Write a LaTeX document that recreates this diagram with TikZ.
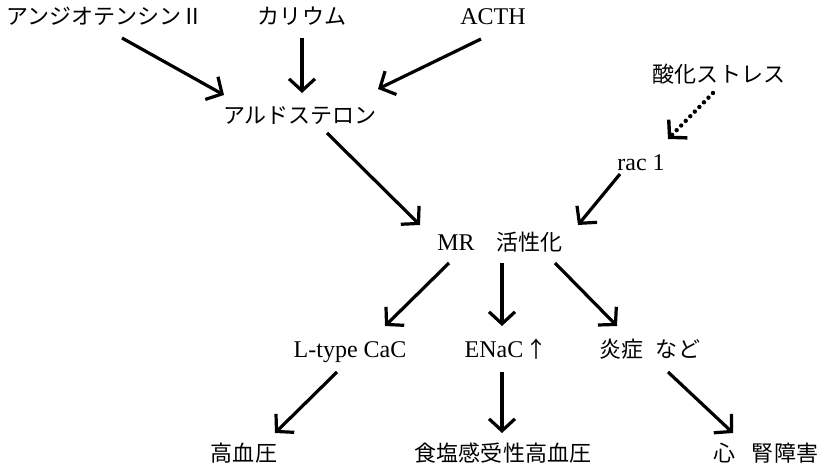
\documentclass[tikz,border=0pt]{standalone}
\usepackage{fontspec}
\setmainfont{Liberation Serif}
\newfontfamily\jp{Noto Sans CJK JP}[Scale=0.917]
\usetikzlibrary{arrows.meta}

\tikzset{
  lbl/.style={anchor=base, inner sep=0pt, font=\fontsize{24pt}{28pt}\selectfont},
  arr/.style={line width=3.2pt, -{Straight Barb[length=12pt,width=26pt]}},
  dotarr/.style={line width=4.4pt, line cap=round, dash pattern=on 0pt off 6.5pt,
                 -{Straight Barb[length=12pt,width=26pt,line width=3.4pt]}}
}

\begin{document}
\begin{tikzpicture}[x=1pt, y=-1pt]
\useasboundingbox (0,0) rectangle (828,471);

% labels
\node[lbl] (ang)   at (105,24)  {\jp アンジオテンシンⅡ};
\node[lbl] (kal)   at (302,24)  {\jp カリウム};
\node[lbl] (acth)  at (493,24)  {ACTH};
\node[lbl] (ald)   at (300,123) {\jp アルドステロン};
\node[lbl] (sanka) at (719,82)  {\jp 酸化ストレス};
\node[lbl] (rac)   at (641,170) {rac 1};
\node[lbl] (mr)    at (500,250) {MR\hspace{22pt}{\jp 活性化}};
\node[lbl] (ltype) at (350,357) {L-type CaC};
\node[lbl] (enac)  at (506,357) {ENaC\hspace{2pt}{\jp ↑}};
\node[lbl] (ens)   at (650,357) {\jp 炎症\hspace{12pt}など};
\node[lbl] (kou)   at (244,461) {\jp 高血圧};
\node[lbl] (shoku) at (503,461) {\jp 食塩感受性高血圧};
\node[lbl] (shin)  at (766,461) {\jp 心\hspace{16pt}腎障害};

% connectors
\draw[arr] ([shift={(17,14)}]ang.base)   -- ([shift={(-76,-28)}]ald.base);
\draw[arr] ([shift={(0,14)}]kal.base)    -- ([shift={(2,-30)}]ald.base);
\draw[arr] ([shift={(-12,15)}]acth.base) -- ([shift={(78,-34)}]ald.base);
\draw[dotarr] ([shift={(-6,11)}]sanka.base) -- ([shift={(27,-31)}]rac.base);
\draw[arr] ([shift={(27,10)}]ald.base)   -- ([shift={(-80,-25)}]mr.base);
\draw[arr] ([shift={(-21,4)}]rac.base)   -- ([shift={(78,-25)}]mr.base);
\draw[arr] ([shift={(-51,13)}]mr.base)   -- ([shift={(35,-31)}]ltype.base);
\draw[arr] ([shift={(2,13)}]mr.base)     -- ([shift={(-4,-31)}]enac.base);
\draw[arr] ([shift={(55,13)}]mr.base)    -- ([shift={(-33,-31)}]ens.base);
\draw[arr] ([shift={(-13,15)}]ltype.base) -- ([shift={(31,-28)}]kou.base);
\draw[arr] ([shift={(-4,15)}]enac.base)  -- ([shift={(-1,-28)}]shoku.base);
\draw[arr] ([shift={(18,15)}]ens.base)   -- ([shift={(-33,-28)}]shin.base);
\end{tikzpicture}
\end{document}
